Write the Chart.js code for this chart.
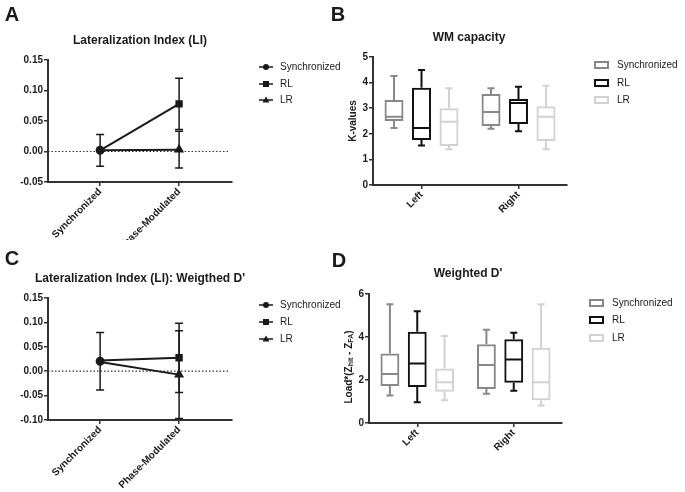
<!DOCTYPE html>
<html>
<head>
<meta charset="utf-8">
<script src="https://cdn.jsdelivr.net/npm/chart.js@4.4.1/dist/chart.umd.min.js"></script>
<style>
  body { margin: 0; background: #fff; width: 685px; height: 492px; position: relative; overflow: hidden;
         font-family: "Liberation Sans", Arial, sans-serif; color: #1a1a1a; }
  .box { position: absolute; }
  .lbl { position: absolute; transform: translate(-50%, -50%); font-weight: bold; white-space: nowrap; line-height: 1; }
  .letter { font-size: 20px; }
  .title { font-size: 12px; }
</style>
</head>
<body>
<div class="box" style="left:0;top:0;width:342px;height:240px"><canvas id="chartA"></canvas></div>
<div class="box" style="left:342px;top:0;width:343px;height:240px"><canvas id="chartB"></canvas></div>
<div class="box" style="left:0;top:240px;width:342px;height:252px"><canvas id="chartC"></canvas></div>
<div class="box" style="left:342px;top:240px;width:343px;height:252px"><canvas id="chartD"></canvas></div>

<div class="lbl letter" style="left:12px;top:14px">A</div>
<div class="lbl letter" style="left:338px;top:14px">B</div>
<div class="lbl letter" style="left:12px;top:258px">C</div>
<div class="lbl letter" style="left:339px;top:260px">D</div>
<div class="lbl title" style="left:140px;top:40px">Lateralization Index (LI)</div>
<div class="lbl title" style="left:469px;top:37px">WM capacity</div>
<div class="lbl title" style="left:140px;top:278px">Lateralization Index (LI): Weigthed D'</div>
<div class="lbl title" style="left:468px;top:273px">Weighted D'</div>

<script>
Chart.defaults.font.family = '"Liberation Sans", Arial, sans-serif'
Chart.defaults.color = '#1a1a1a'
Chart.defaults.animation = false

const conditions = ['Synchronized', 'Phase-Modulated']
const sides = ['Left', 'Right']
const seriesNames = ['Synchronized', 'RL', 'LR']
const boxColors = ['#888888', '#111111', '#d2d2d2']

// A: lateralization index, mean and error per condition
const liSync = [0.002, null]
const liRL = [0.002, 0.078]
const liLR = [0.002, 0.003]
const liSyncErr = [0.026, null]
const liRLErr = [null, 0.042]
const liLRErr = [null, 0.030]
const liTicks = [-0.05, 0.15]

// C: lateralization index of weighted D'
const wdSync = [0.0205, null]
const wdRL = [0.022, 0.0275]
const wdLR = [0.019, -0.007]
const wdSyncErr = [0.059, null]
const wdRLErr = [null, 0.071]
const wdLRErr = [null, 0.090]
const wdTicks = [-0.10, 0.15]

// B: WM capacity, [min, q1, median, q3, max] for Left, Right
const wmSync = [[2.23, 2.50, 2.67, 3.32, 4.26], [2.20, 2.30, 2.85, 3.55, 3.78]]
const wmRL = [[1.54, 1.76, 2.23, 3.80, 4.49], [2.10, 2.38, 3.20, 3.36, 3.84]]
const wmLR = [[1.40, 1.52, 2.47, 3.00, 3.78], [1.40, 1.72, 2.67, 3.08, 3.88]]

// D: weighted D', [min, q1, median, q3, max] for Left, Right
const dpSync = [[1.28, 1.72, 2.28, 3.23, 5.52], [1.36, 1.58, 2.70, 3.66, 4.34]]
const dpRL = [[0.97, 1.67, 2.77, 4.25, 5.20], [1.50, 1.87, 2.95, 3.90, 4.20]]
const dpLR = [[1.06, 1.45, 1.90, 2.53, 4.05], [0.81, 1.06, 1.90, 3.50, 5.52]]

const tickFont = { size: 10, weight: 'bold' }
const axisGrid = { drawOnChartArea: false, drawTicks: true, tickLength: 4, color: '#333', lineWidth: 1.5, offset: false }
const axisBorder = { display: true, color: '#333', width: 2 }

function lineLegend(x, rows) {
    return {
        id: 'lineLegend',
        afterDraw(chart) {
            const ctx = chart.ctx
            ctx.save()
            seriesNames.forEach((name, i) => {
                const y = rows[i]
                ctx.strokeStyle = '#1a1a1a'
                ctx.fillStyle = '#1a1a1a'
                ctx.lineWidth = 1.5
                ctx.beginPath(); ctx.moveTo(x - 7, y); ctx.lineTo(x + 7, y); ctx.stroke()
                ctx.beginPath()
                if (i === 0) ctx.arc(x, y, 3, 0, Math.PI * 2)
                else if (i === 1) ctx.rect(x - 3, y - 3, 6, 6)
                else { ctx.moveTo(x, y - 3.5); ctx.lineTo(x + 3.5, y + 2.5); ctx.lineTo(x - 3.5, y + 2.5); ctx.closePath() }
                ctx.fill()
                ctx.font = '10px "Liberation Sans", Arial, sans-serif'
                ctx.textBaseline = 'middle'
                ctx.textAlign = 'left'
                ctx.fillText(name, x + 14, y)
            })
            ctx.restore()
        }
    }
}

function boxLegend(x, tx, rows) {
    return {
        id: 'boxLegend',
        afterDraw(chart) {
            const ctx = chart.ctx
            ctx.save()
            seriesNames.forEach((name, i) => {
                const y = rows[i]
                ctx.strokeStyle = boxColors[i]
                ctx.lineWidth = 2
                ctx.strokeRect(x, y - 3, 13, 6)
                ctx.fillStyle = '#1a1a1a'
                ctx.font = '10px "Liberation Sans", Arial, sans-serif'
                ctx.textBaseline = 'middle'
                ctx.textAlign = 'left'
                ctx.fillText(name, tx, y)
            })
            ctx.restore()
        }
    }
}

const zeroLine = {
    id: 'zeroLine',
    beforeDatasetsDraw(chart) {
        const { ctx, chartArea, scales } = chart
        const y = scales.y.getPixelForValue(0)
        ctx.save()
        ctx.strokeStyle = '#333'
        ctx.lineWidth = 1.2
        ctx.setLineDash([1.5, 2])
        ctx.beginPath(); ctx.moveTo(chartArea.left, y); ctx.lineTo(chartArea.right - 4, y); ctx.stroke()
        ctx.restore()
    }
}

const errorBars = {
    id: 'errorBars',
    beforeDatasetsDraw(chart) {
        const { ctx, scales } = chart
        ctx.save()
        ctx.strokeStyle = '#1a1a1a'
        ctx.lineWidth = 1.5
        chart.data.datasets.forEach(ds => {
            ds.data.forEach((p, j) => {
                const e = ds.err[j]
                if (p.y === null || e === null) return
                const x = scales.x.getPixelForValue(p.x)
                const top = scales.y.getPixelForValue(p.y + e)
                const bot = scales.y.getPixelForValue(p.y - e)
                ctx.beginPath()
                ctx.moveTo(x, top); ctx.lineTo(x, bot)
                ctx.moveTo(x - 4, top); ctx.lineTo(x + 4, top)
                ctx.moveTo(x - 4, bot); ctx.lineTo(x + 4, bot)
                ctx.stroke()
            })
        })
        ctx.restore()
    }
}

const whiskers = {
    id: 'whiskers',
    afterDatasetsDraw(chart) {
        const { ctx, scales } = chart
        ctx.save()
        ctx.lineWidth = 2
        chart.data.datasets.forEach((ds, i) => {
            chart.getDatasetMeta(i).data.forEach((bar, j) => {
                const [mn, q1, md, q3, mx] = ds.stats[j]
                const y = v => scales.y.getPixelForValue(v)
                const half = bar.width / 2 - 1
                ctx.strokeStyle = ds.borderColor
                ctx.beginPath()
                ctx.moveTo(bar.x - half, y(md)); ctx.lineTo(bar.x + half, y(md))
                ctx.moveTo(bar.x, y(q3)); ctx.lineTo(bar.x, y(mx))
                ctx.moveTo(bar.x - 3.5, y(mx)); ctx.lineTo(bar.x + 3.5, y(mx))
                ctx.moveTo(bar.x, y(q1)); ctx.lineTo(bar.x, y(mn))
                ctx.moveTo(bar.x - 3.5, y(mn)); ctx.lineTo(bar.x + 3.5, y(mn))
                ctx.stroke()
            })
        })
        ctx.restore()
    }
}

function lineChart(id, series, errs, range, step, pad, xHeight, legendRows) {
    const styles = ['circle', 'rect', 'triangle']
    new Chart(document.getElementById(id), {
        type: 'line',
        data: {
            datasets: series.map((vals, i) => ({
                label: seriesNames[i],
                data: conditions.map((c, j) => ({ x: j, y: vals[j] })),
                err: errs[i],
                borderColor: '#1a1a1a',
                backgroundColor: '#1a1a1a',
                borderWidth: 2,
                pointStyle: styles[i],
                pointRadius: i === 0 ? 3.5 : [0, 3.8],
                tension: 0
            }))
        },
        options: {
            responsive: true,
            maintainAspectRatio: false,
            layout: { padding: pad },
            plugins: { legend: { display: false }, tooltip: { enabled: false } },
            scales: {
                x: {
                    type: 'linear',
                    min: -0.66,
                    max: 1.67,
                    afterBuildTicks: s => { s.ticks = conditions.map((c, j) => ({ value: j })) },
                    afterFit: s => { s.height = xHeight },
                    grid: axisGrid,
                    border: axisBorder,
                    ticks: { font: tickFont, autoSkip: false, minRotation: 45, maxRotation: 45, padding: 0,
                             callback: v => conditions[v] }
                },
                y: {
                    min: range[0],
                    max: range[1],
                    afterFit: s => { s.width = 48 },
                    grid: axisGrid,
                    border: axisBorder,
                    ticks: { font: tickFont, stepSize: step, padding: 1, callback: v => v.toFixed(2) }
                }
            }
        },
        plugins: [zeroLine, errorBars, lineLegend(266, legendRows)]
    })
}

function boxChart(id, series, max, step, yWidth, pad, xHeight, yTitle, legend, extra) {
    new Chart(document.getElementById(id), {
        type: 'bar',
        data: {
            labels: sides,
            datasets: series.map((stats, i) => ({
                label: seriesNames[i],
                data: stats.map(s => [s[1], s[3]]),
                stats,
                borderColor: boxColors[i],
                backgroundColor: 'rgba(255,255,255,0)',
                borderWidth: 2,
                borderSkipped: false,
                categoryPercentage: 0.85,
                barPercentage: 0.69
            }))
        },
        options: {
            responsive: true,
            maintainAspectRatio: false,
            layout: { padding: pad },
            plugins: { legend: { display: false }, tooltip: { enabled: false } },
            scales: {
                x: {
                    afterFit: s => { s.height = xHeight },
                    grid: axisGrid,
                    border: axisBorder,
                    ticks: { font: tickFont, autoSkip: false, minRotation: 45, maxRotation: 45, padding: 0 }
                },
                y: {
                    min: 0,
                    max,
                    afterFit: s => { s.width = yWidth },
                    grid: axisGrid,
                    border: axisBorder,
                    title: yTitle,
                    ticks: { font: tickFont, stepSize: step, padding: 1 }
                }
            }
        },
        plugins: [whiskers, legend].concat(extra)
    })
}

const dpLabel = {
    id: 'dpLabel',
    afterDraw(chart) {
        const ctx = chart.ctx
        const parts = [['Load*(Z', 10, 0], ['hit', 7, 2.5], [' - Z', 10, 0], ['FA', 7, 2.5], [')', 10, 0]]
        ctx.save()
        ctx.translate(7, 127)
        ctx.rotate(-Math.PI / 2)
        ctx.fillStyle = '#1a1a1a'
        ctx.textBaseline = 'middle'
        ctx.textAlign = 'left'
        let total = 0
        parts.forEach(p => { ctx.font = 'bold ' + p[1] + 'px "Liberation Sans", Arial, sans-serif'; total += ctx.measureText(p[0]).width })
        let x = -total / 2
        parts.forEach(p => {
            ctx.font = 'bold ' + p[1] + 'px "Liberation Sans", Arial, sans-serif'
            ctx.fillText(p[0], x, p[2])
            x += ctx.measureText(p[0]).width
        })
        ctx.restore()
    }
}

lineChart('chartA', [liSync, liRL, liLR], [liSyncErr, liRLErr, liLRErr], liTicks, 0.05,
    { top: 60, right: 110, bottom: 0, left: 0 }, 58, [67, 84, 100])
lineChart('chartC', [wdSync, wdRL, wdLR], [wdSyncErr, wdRLErr, wdLRErr], wdTicks, 0.05,
    { top: 58, right: 110, bottom: 0, left: 0 }, 72, [65, 82, 99])

boxChart('chartB', [wmSync, wmRL, wmLR], 5, 1, 31, { top: 57, right: 118, bottom: 0, left: 0 }, 55,
    { display: true, text: 'K-values', font: { size: 10, weight: 'bold' }, padding: { top: 5, bottom: 0 } },
    boxLegend(253, 275, [65, 83, 100]), [])
boxChart('chartD', [dpSync, dpRL, dpLR], 6, 2, 27, { top: 54, right: 123, bottom: 0, left: 0 }, 69,
    { display: false }, boxLegend(248, 270, [63, 80, 98]), [dpLabel])
</script>
</body>
</html>
